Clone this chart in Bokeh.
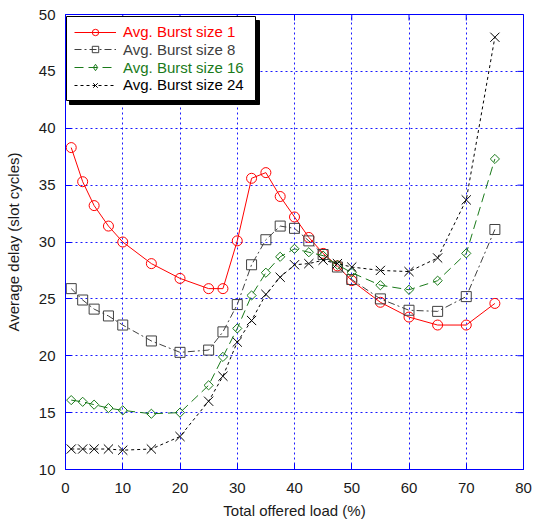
import numpy as np
from bokeh.plotting import figure
from bokeh.models import Range1d, FixedTicker, Legend, LegendItem, BoxAnnotation
from bokeh.embed import file_html
from bokeh.resources import INLINE

# ---------------- data ----------------
load = [1, 3, 5, 7.5, 10, 15, 20, 25, 27.5, 30, 32.5, 35, 37.5, 40, 42.5,
        45, 47.5, 50, 55, 60, 65, 70, 75]
burst1 = [38.3, 35.3, 33.2, 31.4, 30.0, 28.1, 26.8, 25.9, 25.9, 30.1, 35.6, 36.1,
          34.0, 32.2, 30.4, 29.0, 27.9, 26.6, 24.7, 23.4, 22.7, 22.7, 24.6]
burst8 = [25.9, 24.9, 24.1, 23.5, 22.7, 21.3, 20.3, 20.5, 22.1, 24.5, 28.0, 30.2,
          31.4, 31.2, 30.1, 28.9, 27.8, 26.7, 25.0, 24.0, 23.9, 25.2, 31.1]
burst16 = [16.1, 15.95, 15.7, 15.4, 15.2, 14.9, 15.0, 17.4, 19.9, 22.4, 25.3, 27.3,
           28.7, 29.4, 29.1, 28.8, 28.0, 27.3, 26.2, 25.8, 26.6, 29.0, 37.3]
burst24 = [11.8, 11.8, 11.8, 11.8, 11.7, 11.8, 12.9, 16.0, 18.2, 21.2, 23.1, 25.4,
           26.9, 28.0, 28.1, 28.4, 28.1, 27.8, 27.5, 27.4, 28.6, 33.7, 48.0]
labels = ["Avg. Burst size 1", "Avg. Burst size 8", "Avg. Burst size 16", "Avg. Burst size 24"]
x_ticks = [0, 10, 20, 30, 40, 50, 60, 70, 80]
y_ticks = [10, 15, 20, 25, 30, 35, 40, 45, 50]

FONT = "Liberation Sans"
BLUE = "#0000ff"
X0, X1, Y0, Y1 = 0, 80, 10, 50

p = figure(width=533, height=524, x_range=Range1d(X0, X1), y_range=Range1d(Y0, Y1),
           output_backend="svg", toolbar_location=None,
           min_border_left=65, min_border_right=10, min_border_top=14, min_border_bottom=55)
p.background_fill_color = "white"
p.border_fill_color = "white"
p.outline_line_color = BLUE
p.outline_line_width = 1

# axes
for ax, ticks in ((p.xaxis[0], x_ticks), (p.yaxis[0], y_ticks)):
    ax.ticker = FixedTicker(ticks=ticks)
    ax.axis_line_color = BLUE
    ax.major_tick_line_color = BLUE
    ax.major_tick_in = 6
    ax.major_tick_out = 0
    ax.minor_tick_line_color = None
    ax.major_label_text_font = FONT
    ax.major_label_text_font_size = "15px"
    ax.major_label_text_color = "#1a1a1a"
    ax.axis_label_text_font = FONT
    ax.axis_label_text_font_size = "15px"
    ax.axis_label_text_font_style = "normal"
    ax.axis_label_text_color = "#1a1a1a"
p.xaxis[0].axis_label = "Total offered load (%)"
p.yaxis[0].axis_label = "Average delay (slot cycles)"
p.xaxis[0].major_label_standoff = 13
p.xaxis[0].axis_label_standoff = 6
p.yaxis[0].major_label_standoff = 10
p.yaxis[0].axis_label_standoff = 14

# grid
p.xgrid.ticker = FixedTicker(ticks=x_ticks[1:-1])
p.ygrid.ticker = FixedTicker(ticks=y_ticks[1:-1])
for g in (p.xgrid, p.ygrid):
    g.grid_line_color = BLUE
    g.grid_line_dash = "2 3"
    g.grid_line_width = 1
    g.grid_line_alpha = 0.9

# inward ticks on the top and right edges of the box (clipped half-dashes)
p.scatter(x_ticks, [Y1] * len(x_ticks), marker="dash", size=12, angle=np.pi / 2,
          line_color=BLUE, line_width=1)
p.scatter([X1] * len(y_ticks), y_ticks, marker="dash", size=12, angle=0,
          line_color=BLUE, line_width=1)

# series
styles = [
    (burst1, "#ff0000", "solid", "circle", 10, 0, "circle"),
    (burst8, "#404040", "7 3 2 3", "square", 10, 0, "square"),
    (burst16, "#1a7a1a", "9 5", "square", 6.5, np.pi / 4, "diamond"),
    (burst24, "#000000", "3 3", "x", 13, 0, "x"),
]
items = []
for (ys, color, dash, marker, size, ang, lmarker), lab in zip(styles, labels):
    lr = p.line(load, ys, line_color=color, line_width=1, line_dash=dash)
    sr = p.scatter(load, ys, marker=marker, size=size, angle=ang, line_color=color,
                   fill_color=None, line_width=1)
    if lmarker != marker:
        # legend-only marker (unrotated diamond), hidden in the plot itself
        sr = p.scatter(load[:1], ys[:1], marker=lmarker, size=size, line_color=color,
                       fill_color=None, line_width=1, visible=False)
    items.append((lab, color, [lr, sr]))

# legend box with shadow
shadow = BoxAnnotation(left=4, right=194, bottom=365, top=449,
                       left_units="screen", right_units="screen",
                       bottom_units="screen", top_units="screen",
                       fill_color="black", fill_alpha=1, line_color="black", line_alpha=1)
box = BoxAnnotation(left=1, right=190, bottom=369, top=453,
                    left_units="screen", right_units="screen",
                    bottom_units="screen", top_units="screen",
                    fill_color="white", fill_alpha=1, line_color="black", line_width=1, line_alpha=1)
p.add_layout(shadow)
p.add_layout(box)

for i, (lab, color, rends) in enumerate(items):
    lg = Legend(items=[LegendItem(label=lab, renderers=rends)],
                location=(9, 429 - i * 17.8), padding=0, margin=0, spacing=0,
                glyph_width=42, glyph_height=16, label_height=16, label_standoff=7,
                label_text_font=FONT, label_text_font_size="15px", label_text_color=color,
                border_line_color=None, background_fill_alpha=0)
    p.add_layout(lg, "center")

open("out.html", "w").write(file_html(p, INLINE))
